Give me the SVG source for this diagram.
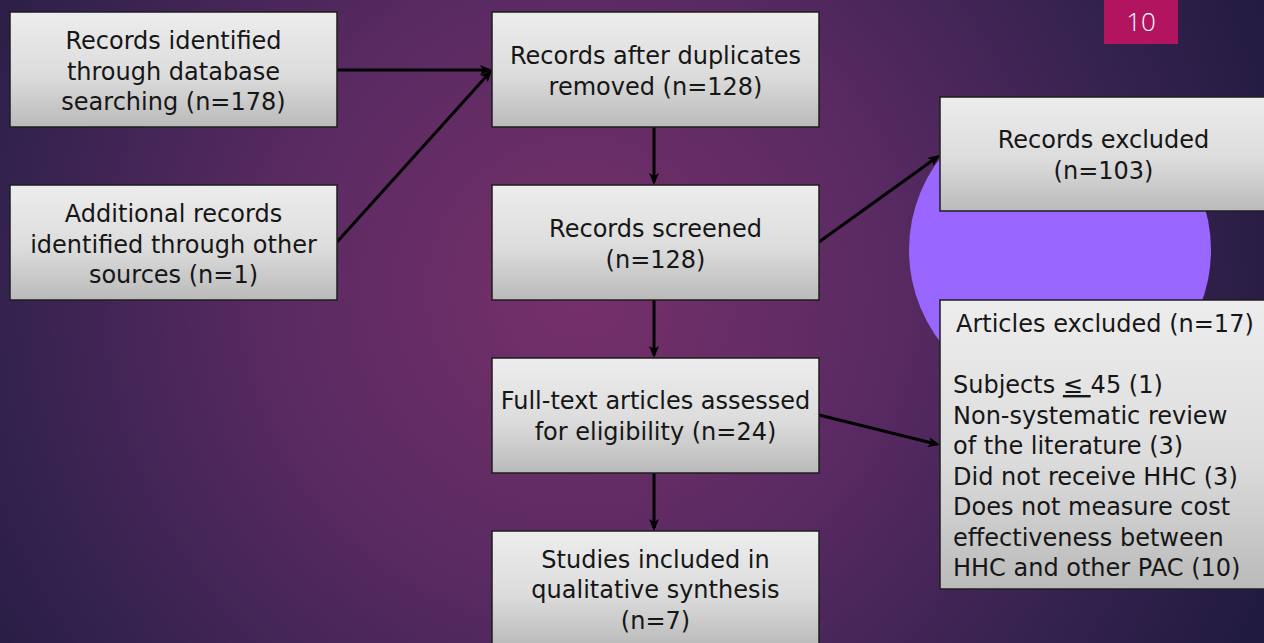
<svg xmlns="http://www.w3.org/2000/svg" width="1264" height="643" viewBox="0 0 1264 643">
<defs>
<radialGradient id="bg" gradientUnits="userSpaceOnUse" cx="580" cy="290" r="760">
<stop offset="0" stop-color="#76306A"/>
<stop offset="0.4" stop-color="#5A2A62"/>
<stop offset="0.75" stop-color="#35224F"/>
<stop offset="1" stop-color="#201A3E"/>
</radialGradient>
<linearGradient id="boxfill" x1="0" y1="0" x2="0" y2="1">
<stop offset="0" stop-color="#EDEDED"/>
<stop offset="0.55" stop-color="#DCDCDC"/>
<stop offset="1" stop-color="#BABABA"/>
</linearGradient>
<marker id="arr" viewBox="0 0 12 10" refX="9" refY="5" markerWidth="12" markerHeight="10" markerUnits="userSpaceOnUse" orient="auto">
<path d="M0,0 L12,5 L0,10 L3,5 z" fill="#000"/>
</marker>
<style>
.box{fill:url(#boxfill);stroke:#1E1E1E;stroke-width:1.5}
.t{font-family:"DejaVu Sans","Liberation Sans",sans-serif;font-size:24px;fill:#161616;text-anchor:middle}
.tl{font-family:"DejaVu Sans","Liberation Sans",sans-serif;font-size:24px;fill:#161616}
.c{stroke:#000;stroke-width:3;fill:none;marker-end:url(#arr)}
</style>
</defs>
<rect width="1264" height="643" fill="url(#bg)"/>
<circle cx="1060" cy="250" r="151" fill="#9966FF"/>
<g id="pagenum">
<rect x="1104" y="0" width="74" height="44" fill="#B3145F"/>
<text x="1141" y="31" font-family="Open Sans, DejaVu Sans, sans-serif" font-weight="300" font-size="26" fill="#FFFFFF" text-anchor="middle">10</text>
</g>
<g id="connectors">
<path class="c" d="M337,70 L489,70"/>
<path class="c" d="M337,242 L490,72.2"/>
<path class="c" d="M654,127 L654,182"/>
<path class="c" d="M819,242 L937.6,156.8"/>
<path class="c" d="M654,300 L654,355"/>
<path class="c" d="M819,415 L937.1,444.3"/>
<path class="c" d="M654,473 L654,528"/>
</g>
<g id="n1">
<rect class="box" x="10" y="12" width="327" height="115"/>
<text class="t" x="173.5" y="49">Records identified</text>
<text class="t" x="173.5" y="79.5">through database</text>
<text class="t" x="173.5" y="110">searching (n=178)</text>
</g>
<g id="n2">
<rect class="box" x="10" y="185" width="327" height="115"/>
<text class="t" x="173.5" y="222">Additional records</text>
<text class="t" x="173.5" y="252.5">identified through other</text>
<text class="t" x="173.5" y="283">sources (n=1)</text>
</g>
<g id="n3">
<rect class="box" x="492" y="12" width="327" height="115"/>
<text class="t" x="655.5" y="64">Records after duplicates</text>
<text class="t" x="655.5" y="94.5">removed (n=128)</text>
</g>
<g id="n4">
<rect class="box" x="492" y="185" width="327" height="115"/>
<text class="t" x="655.5" y="237">Records screened</text>
<text class="t" x="655.5" y="268">(n=128)</text>
</g>
<g id="n5">
<rect class="box" x="940" y="97" width="327" height="114"/>
<text class="t" x="1103.5" y="148">Records excluded</text>
<text class="t" x="1103.5" y="179">(n=103)</text>
</g>
<g id="n6">
<rect class="box" x="492" y="358" width="327" height="115"/>
<text class="t" x="655.5" y="409">Full-text articles assessed</text>
<text class="t" x="655.5" y="440">for eligibility (n=24)</text>
</g>
<g id="n7">
<rect class="box" x="940" y="300" width="327" height="289"/>
<text class="tl" x="956" y="332">Articles excluded (n=17)</text>
<text class="tl" x="953" y="393">Subjects <tspan text-decoration="underline">≤ </tspan>45 (1)</text>
<text class="tl" x="953" y="423.5">Non-systematic review</text>
<text class="tl" x="953" y="454">of the literature (3)</text>
<text class="tl" x="953" y="484.5">Did not receive HHC (3)</text>
<text class="tl" x="953" y="515">Does not measure cost</text>
<text class="tl" x="953" y="545.5">effectiveness between</text>
<text class="tl" x="953" y="576">HHC and other PAC (10)</text>
</g>
<g id="n8">
<rect class="box" x="492" y="531" width="327" height="116"/>
<text class="t" x="655.5" y="568">Studies included in</text>
<text class="t" x="655.5" y="598">qualitative synthesis</text>
<text class="t" x="655.5" y="628.5">(n=7)</text>
</g>
</svg>
